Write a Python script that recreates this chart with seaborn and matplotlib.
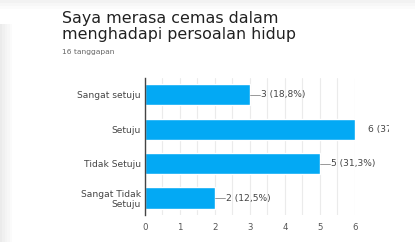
import matplotlib
matplotlib.use("Agg")
import matplotlib.pyplot as plt
import seaborn as sns
import pandas as pd
from matplotlib.transforms import Bbox

# data
categories = ["Sangat setuju", "Setuju", "Tidak Setuju", "Sangat Tidak\nSetuju"]
counts = [3, 6, 5, 2]
labels = ["3 (18,8%)", "6 (37,5%)", "5 (31,3%)", "2 (12,5%)"]
title = "Saya merasa cemas dalam\nmenghadapi persoalan hidup"
subtitle = "16 tanggapan"

df = pd.DataFrame({"jawaban": categories, "jumlah": counts})

sns.set_style("white")
plt.rcParams['font.family'] = ['DejaVu Sans']

fig = plt.figure(figsize=(4.15, 2.42), dpi=100)

# grey shadow on the left edge of the card
for i, a in enumerate([0.08, 0.06, 0.045, 0.03, 0.015]):
    fig.patches.append(plt.Rectangle((i * 0.006, 0), 0.006, 0.9, transform=fig.transFigure,
                                     color="#000000", alpha=a, lw=0))
for i, a in enumerate([0.05, 0.03, 0.015]):
    fig.patches.append(plt.Rectangle((0, 1 - (i + 1) * 0.012), 1, 0.012, transform=fig.transFigure,
                                     color="#000000", alpha=a, lw=0))

ax = fig.add_axes([0.349, 0.112, 0.506, 0.566])
sns.barplot(data=df, x="jumlah", y="jawaban", orient="h", color="#03a9f4",
            saturation=1, width=0.62, ax=ax)

ax.set_xlim(0, 6)
ax.set_xticks(range(0, 7))
ax.set_xticks([i + 0.5 for i in range(6)], minor=True)
ax.grid(axis="x", which="both", color="#ebebeb", lw=0.8)
ax.set_axisbelow(True)
ax.set_xlabel("")
ax.set_ylabel("")
for s in ["top", "right", "bottom"]:
    ax.spines[s].set_visible(False)
ax.spines["left"].set_color("#444444")
ax.spines["left"].set_linewidth(1.0)
ax.tick_params(axis="y", length=0, labelsize=6.6, labelcolor="#444444", pad=3)
ax.tick_params(axis="x", length=0, labelsize=6.2, labelcolor="#555555", pad=6)

# the last label is cut off by the card edge in the original
clip = Bbox.from_extents(0, 0, 389, 242)
for i, (v, t) in enumerate(zip(counts, labels)):
    if v < 6:
        ax.plot([v, v + 0.3], [i, i], color="#888888", lw=0.6, clip_on=False)
        ax.text(v + 0.33, i, t, va="center", ha="left", fontsize=6.6, color="#444444")
    else:
        txt = ax.text(v + 0.37, i, t, va="center", ha="left", fontsize=6.6, color="#444444",
                      clip_on=True)
        txt.set_clip_box(clip)

fig.text(0.149, 0.955, title, fontsize=11.4, color="#212121", va="top", ha="left",
         linespacing=1.12)
fig.text(0.149, 0.787, subtitle, fontsize=5.4, color="#666666", va="center", ha="left")

fig.savefig("out.png", dpi=100)
